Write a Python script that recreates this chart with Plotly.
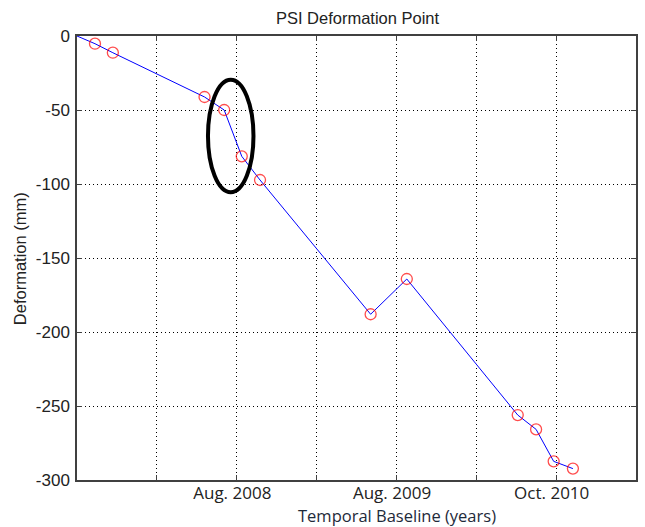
import plotly.graph_objects as go

# Data (x in grid units of the temporal baseline axis, y in mm)
time_pos = [0.0, 0.225, 0.449, 1.597, 1.843, 2.063, 2.292, 3.677, 4.130, 5.519, 5.749, 5.969, 6.210]
deformation = [0.0, -5.2, -11.3, -41.2, -50.0, -81.3, -97.3, -188.0, -164.2, -256.1, -265.8, -287.4, -292.3]
marker_sizes = [0] + [11] * (len(time_pos) - 1)

x_tickvals = [0, 1, 2, 3, 4, 5, 6, 7]
x_ticktext = ["", "", "Aug. 2008\u00a0\u00a0", "", "Aug. 2009\u00a0\u00a0", "", "Oct. 2010\u00a0\u00a0", ""]
y_tickvals = [0, -50, -100, -150, -200, -250, -300]
y_ticktext = ["0", "-50", "-100", "-150", "-200", "-250", "-300"]

# Highlight ellipse (data coordinates)
ellipse_x = [1.64, 2.21]
ellipse_y = [-29.5, -105.5]

W, H = 645, 527
L, R, T, B = 77, 7, 36, 47
PW, PH = W - L - R, H - T - B

fig = go.Figure()
fig.add_trace(go.Scatter(
    x=time_pos, y=deformation, mode="lines+markers",
    line=dict(color="#0000ff", width=1),
    marker=dict(symbol="circle-open", size=marker_sizes, color="#ff0000", line=dict(width=1.3, color="#ff0000")),
    showlegend=False, cliponaxis=False,
))

fig.add_shape(type="circle", xref="x", yref="y",
              x0=ellipse_x[0], x1=ellipse_x[1], y0=ellipse_y[0], y1=ellipse_y[1],
              line=dict(color="black", width=4))

axis_common = dict(
    showline=True, linecolor="#404040", linewidth=1.5, mirror="ticks",
    ticks="inside", ticklen=5, tickcolor="#404040", tickwidth=1,
    showgrid=True, gridcolor="#000000", gridwidth=1, griddash="1px,3px",
    zeroline=False,
)

fig.update_xaxes(range=[0, 7], tickmode="array", tickvals=x_tickvals, ticktext=x_ticktext,
                 tickfont=dict(family="Open Sans", size=17, color="#222222"),
                 ticklabelstandoff=-3,
                 **axis_common)
fig.update_yaxes(range=[-300, 0], tickmode="array", tickvals=y_tickvals, ticktext=y_ticktext,
                 tickfont=dict(family="Liberation Sans, Arial", size=17, color="#222222"),
                 ticklabelstandoff=2,
                 **axis_common)

# Axis titles as annotations (positioned to match the reference)
fig.add_annotation(text="Temporal Baseline (years)", xref="paper", yref="paper",
                   x=(398.5 - L) / PW, y=-(515 - (T + PH)) / PH, xanchor="center", yanchor="middle",
                   showarrow=False, font=dict(family="Open Sans", size=16.5, color="#1e2a3a"))
fig.add_annotation(text="Deformation (mm)", xref="paper", yref="paper",
                   x=(20 - L) / PW, y=1 - (259 - T) / PH, xanchor="center", yanchor="middle",
                   textangle=-90, showarrow=False,
                   font=dict(family="Liberation Sans, Arial", size=16.5, color="#222222"))

fig.update_layout(
    width=W, height=H,
    margin=dict(l=L, r=R, t=T, b=B),
    paper_bgcolor="white", plot_bgcolor="white",
    title=dict(text="PSI Deformation Point", x=(L + L + PW) / 2 / W, xanchor="center",
               y=1 - 18 / H, yanchor="middle",
               font=dict(family="Liberation Sans, Arial", size=16.5, color="#222222")),
)

fig.write_html("out.html")
